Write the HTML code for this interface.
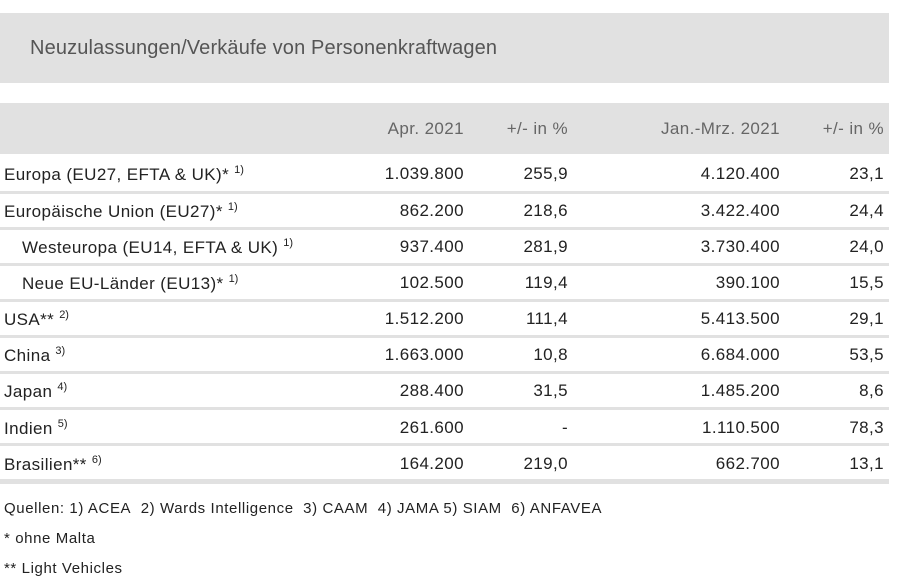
<!DOCTYPE html>
<html><head><meta charset="utf-8"><style>
body{margin:0;width:907px;height:578px;background:#fff;font-family:"Liberation Sans",sans-serif;position:relative;overflow:hidden;color:#222}
.a{position:absolute;white-space:nowrap}
.t{left:0;top:13px;width:889px;height:70px;background:#e1e1e1}
.h{left:0;top:103px;width:889px;height:51px;background:#e1e1e1}
.sep{left:0;width:889px;height:3px;background:#e1e1e1}
.r{text-align:right;font-size:17px;letter-spacing:0.4px}
.l{font-size:17px;letter-spacing:0.4px;left:4px}
sup{font-size:11px;vertical-align:7px;margin-left:5px;letter-spacing:0}
.f{font-size:15px;letter-spacing:0.6px;left:4px}
</style></head><body>
<div class="a t"></div>
<div class="a" style="left:30px;top:37px;font-size:20px;letter-spacing:0.15px;color:#555">Neuzulassungen/Verkäufe von Personenkraftwagen</div>
<div class="a h"></div>
<div class="a r" style="right:443px;top:119px;color:#666">Apr. 2021</div>
<div class="a r" style="right:339px;top:119px;color:#666">+/- in %</div>
<div class="a r" style="right:127px;top:119px;color:#666">Jan.-Mrz. 2021</div>
<div class="a r" style="right:23px;top:119px;color:#666">+/- in %</div>
<div class="a sep" style="top:191px"></div>
<div class="a sep" style="top:227px"></div>
<div class="a sep" style="top:263px"></div>
<div class="a sep" style="top:299px"></div>
<div class="a sep" style="top:335px"></div>
<div class="a sep" style="top:371px"></div>
<div class="a sep" style="top:407px"></div>
<div class="a sep" style="top:443px"></div>
<div class="a sep" style="top:479px;height:5px"></div>

<div class="a l" style="top:164px">Europa (EU27, EFTA &amp; UK)*<sup>1)</sup></div>
<div class="a r" style="right:443px;top:164px">1.039.800</div><div class="a r" style="right:339px;top:164px">255,9</div><div class="a r" style="right:127px;top:164px">4.120.400</div><div class="a r" style="right:23px;top:164px">23,1</div>

<div class="a l" style="top:201px">Europäische Union (EU27)*<sup>1)</sup></div>
<div class="a r" style="right:443px;top:201px">862.200</div><div class="a r" style="right:339px;top:201px">218,6</div><div class="a r" style="right:127px;top:201px">3.422.400</div><div class="a r" style="right:23px;top:201px">24,4</div>

<div class="a l" style="top:237px;left:22px">Westeuropa (EU14, EFTA &amp; UK)<sup>1)</sup></div>
<div class="a r" style="right:443px;top:237px">937.400</div><div class="a r" style="right:339px;top:237px">281,9</div><div class="a r" style="right:127px;top:237px">3.730.400</div><div class="a r" style="right:23px;top:237px">24,0</div>

<div class="a l" style="top:273px;left:22px">Neue EU-Länder (EU13)*<sup>1)</sup></div>
<div class="a r" style="right:443px;top:273px">102.500</div><div class="a r" style="right:339px;top:273px">119,4</div><div class="a r" style="right:127px;top:273px">390.100</div><div class="a r" style="right:23px;top:273px">15,5</div>

<div class="a l" style="top:309px">USA**<sup>2)</sup></div>
<div class="a r" style="right:443px;top:309px">1.512.200</div><div class="a r" style="right:339px;top:309px">111,4</div><div class="a r" style="right:127px;top:309px">5.413.500</div><div class="a r" style="right:23px;top:309px">29,1</div>

<div class="a l" style="top:345px">China<sup>3)</sup></div>
<div class="a r" style="right:443px;top:345px">1.663.000</div><div class="a r" style="right:339px;top:345px">10,8</div><div class="a r" style="right:127px;top:345px">6.684.000</div><div class="a r" style="right:23px;top:345px">53,5</div>

<div class="a l" style="top:381px">Japan<sup>4)</sup></div>
<div class="a r" style="right:443px;top:381px">288.400</div><div class="a r" style="right:339px;top:381px">31,5</div><div class="a r" style="right:127px;top:381px">1.485.200</div><div class="a r" style="right:23px;top:381px">8,6</div>

<div class="a l" style="top:418px">Indien<sup>5)</sup></div>
<div class="a r" style="right:443px;top:418px">261.600</div><div class="a r" style="right:339px;top:418px">-</div><div class="a r" style="right:127px;top:418px">1.110.500</div><div class="a r" style="right:23px;top:418px">78,3</div>

<div class="a l" style="top:454px">Brasilien**<sup>6)</sup></div>
<div class="a r" style="right:443px;top:454px">164.200</div><div class="a r" style="right:339px;top:454px">219,0</div><div class="a r" style="right:127px;top:454px">662.700</div><div class="a r" style="right:23px;top:454px">13,1</div>

<div class="a f" style="top:500px">Quellen: 1) ACEA&nbsp; 2) Wards Intelligence&nbsp; 3) CAAM&nbsp; 4) JAMA 5) SIAM&nbsp; 6) ANFAVEA</div>
<div class="a f" style="top:530px">* ohne Malta</div>
<div class="a f" style="top:560px">** Light Vehicles</div>
</body></html>
